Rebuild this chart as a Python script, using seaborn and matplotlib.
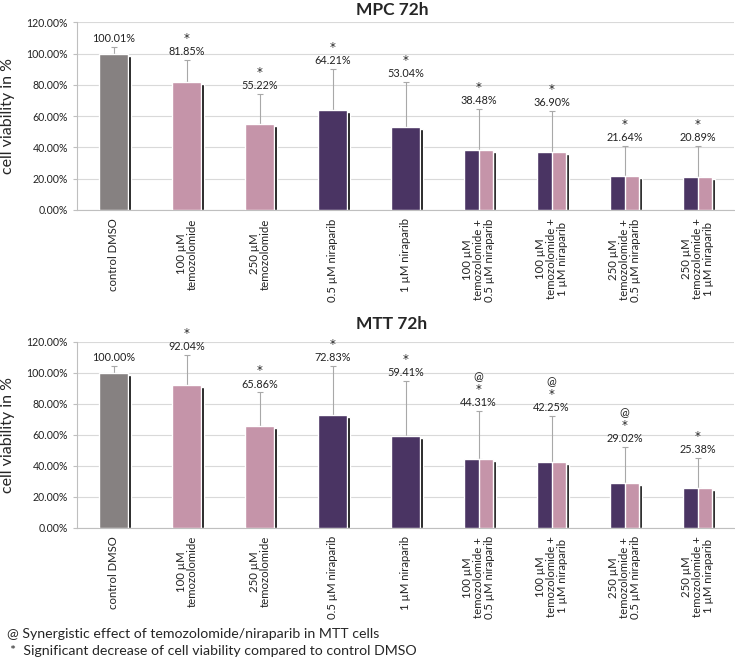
import matplotlib
matplotlib.use("Agg")
import matplotlib.pyplot as plt
import seaborn as sns
import numpy as np
import pandas as pd
from matplotlib.ticker import FuncFormatter, FixedLocator

# categories on the x axis
categories = [
    "control DMSO",
    "100 µM\ntemozolomide",
    "250 µM\ntemozolomide",
    "0.5 µM niraparib",
    "1 µM niraparib",
    "100 µM\ntemozolomide +\n0.5 µM niraparib",
    "100 µM\ntemozolomide +\n1 µM niraparib",
    "250 µM\ntemozolomide +\n0.5 µM niraparib",
    "250 µM\ntemozolomide +\n1 µM niraparib",
]
# group of each treatment: control, temozolomide, niraparib, combination
groups = ["control", "temo", "temo", "nira", "nira", "combo", "combo", "combo", "combo"]

mpc_values = [100.01, 81.85, 55.22, 64.21, 53.04, 38.48, 36.90, 21.64, 20.89]
mpc_errors = [4.4, 14.0, 19.0, 26.0, 29.0, 26.0, 26.4, 19.5, 20.0]
mpc_star = [False, True, True, True, True, True, True, True, True]
mpc_at = [False] * 9

mtt_values = [100.00, 92.04, 65.86, 72.83, 59.41, 44.31, 42.25, 29.02, 25.38]
mtt_errors = [4.3, 19.4, 21.4, 31.5, 35.4, 31.0, 29.8, 22.9, 19.8]
mtt_star = [False, True, True, True, True, True, True, True, True]
mtt_at = [False, False, False, False, False, True, True, True, False]

y_ticks = [0, 20, 40, 60, 80, 100, 120]

GRAY = "#868181"
PINK = "#c594a9"
PURPLE = "#4a3463"
colors = {"control": GRAY, "temo": PINK, "nira": PURPLE, "combo": PURPLE}

sns.set_style("white")
plt.rcParams["font.family"] = ["Lato", "DejaVu Sans"]

fig = plt.figure(figsize=(7.35, 6.62), dpi=100)
ax_top = fig.add_axes([0.1048, 0.6828, 0.894, 0.2835])
ax_bot = fig.add_axes([0.1048, 0.2029, 0.894, 0.2809])


# Draw one panel of the bar chart
def draw_panel(ax, values, errors, stars, ats, title, title_y):
    df = pd.DataFrame({"cat": categories, "val": values, "grp": groups})
    x = np.arange(len(categories))
    width = 0.4

    # black drop shadow behind each bar
    ax.bar(x + 0.04, np.array(values) - 1.3, width=width, color="black", zorder=2)

    sns.barplot(data=df, x="cat", y="val", hue="cat", legend=False,
                palette=[colors[g] for g in groups], width=width,
                saturation=1, errorbar=None, ax=ax, zorder=3)

    # right half of combination bars in pink
    for i, g in enumerate(groups):
        if g == "combo":
            ax.bar(x[i] + width / 4, values[i], width=width / 2, color=PINK, zorder=4)

    ax.errorbar(x, values, yerr=[np.zeros(len(values)), errors], fmt="none",
                ecolor="#a8a8a8", elinewidth=0.8, capsize=2.5, capthick=0.8, zorder=1)

    for i, v in enumerate(values):
        top = v + errors[i]
        ax.annotate(f"{v:.2f}%", (x[i], top), xytext=(0, 6), textcoords="offset points",
                    ha="center", va="center", fontsize=7.8, color="#222222")
        if stars[i]:
            ax.annotate("*", (x[i], top), xytext=(0, 10.8), textcoords="offset points",
                        ha="center", va="bottom", fontsize=8.5, color="#222222",
                        family="DejaVu Sans")
        if ats[i]:
            ax.annotate("@", (x[i], top), xytext=(0, 21), textcoords="offset points",
                        ha="center", va="bottom", fontsize=8.5, color="#222222")

    ax.set_xlim(-0.5, len(categories) - 0.5)
    ax.set_ylim(0, 120)
    ax.yaxis.set_major_locator(FixedLocator(y_ticks))
    ax.yaxis.set_major_formatter(FuncFormatter(lambda v, p: f"{v:.2f}%"))
    ax.yaxis.grid(True, color="#d9d9d9", linewidth=0.8, zorder=0)
    ax.set_axisbelow(True)

    ax.set_xticks(x)
    ax.set_xticklabels(categories, rotation=90, ha="center", va="top",
                       multialignment="center", fontsize=8.2, color="#222222",
                       linespacing=1.0)
    ax.set_xticks(np.arange(-0.5, len(categories)), minor=True)
    ax.tick_params(axis="x", which="major", length=0, pad=6)
    ax.tick_params(axis="x", which="minor", length=3, color="#bfbfbf", direction="out")
    ax.tick_params(axis="y", length=3, color="#bfbfbf", direction="out",
                   labelsize=7.6, labelcolor="#222222", left=True)

    for side in ["top", "right"]:
        ax.spines[side].set_visible(False)
    ax.spines["left"].set_color("#bfbfbf")
    ax.spines["bottom"].set_color("#bfbfbf")
    ax.spines["left"].set_linewidth(0.8)
    ax.spines["bottom"].set_linewidth(0.8)

    ax.set_xlabel("")
    ax.set_ylabel("cell viability in %", fontsize=11.5)
    ax.yaxis.set_label_coords(-0.094, 0.5)
    fig.text(0.533, title_y, title, ha="center", va="center",
             fontsize=12.5, fontweight="bold")


draw_panel(ax_top, mpc_values, mpc_errors, mpc_star, mpc_at, "MPC 72h", 0.985)
draw_panel(ax_bot, mtt_values, mtt_errors, mtt_star, mtt_at, "MTT 72h", 0.51)

fig.text(0.009, 0.042, "@ Synergistic effect of temozolomide/niraparib in MTT cells",
         fontsize=10.2, va="center")
fig.text(0.014, 0.017, "*  Significant decrease of cell viability compared to control DMSO",
         fontsize=10.2, va="center")

plt.savefig("out.png", dpi=100)
